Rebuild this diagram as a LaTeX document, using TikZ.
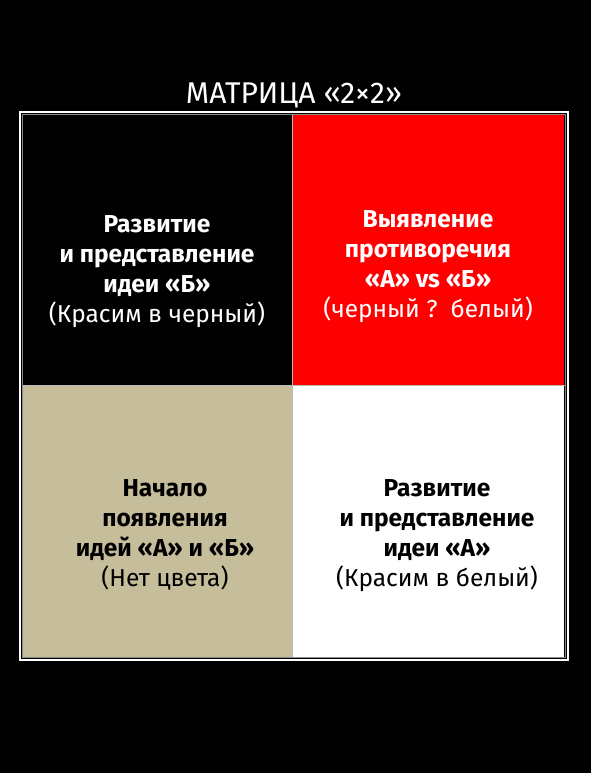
\documentclass[tikz,border=0pt]{standalone}
\usepackage{fontspec}
\setmainfont{Fira Sans}
\definecolor{khaki}{HTML}{C6BD9B}
\definecolor{framegray}{HTML}{8A8A8A}
\begin{document}
\begin{tikzpicture}[x=1pt,y=-1pt,
  quad/.style={draw=none,minimum width=271pt,minimum height=271pt,anchor=north west,inner sep=0pt},
  qtext/.style={align=center,font=\fontsize{24.5}{30}\selectfont,text=#1},
]
\useasboundingbox[fill=black] (0,0) rectangle (591,773);
\node[text=white,font=\fontsize{30}{32}\selectfont] (title) at (294,95) {МАТРИЦА «2×2»};
\draw[white,line width=2.2pt] (20,112) rectangle (568,660);
\draw[framegray,line width=1pt] (22.5,114.5) rectangle (565.5,657.5);
\node[quad,fill=black] (tl) at (23,115) {};
\node[quad,fill=red] (tr) at (293,115) {};
\node[quad,fill=khaki] (bl) at (23,386) {};
\node[quad,fill=white] (br) at (293,386) {};
\draw[framegray!60,line width=0.6pt] (292.5,115) -- (292.5,657);
\draw[framegray!60,line width=0.6pt] (23,385.7) -- (565,385.7);
\node[qtext=white] (ttl) at (157,272) {\textbf{Развитие}\\\textbf{и представление}\\\textbf{идеи «Б»}\\(Красим в черный)};
\node[qtext=white] (ttr) at (428,267) {\textbf{Выявление}\\\textbf{противоречия}\\\textbf{«А» vs «Б»}\\(черный ?\ \ белый)};
\node[qtext=black] (tbl) at (165,534.5) {\textbf{Начало}\\\textbf{появления}\\\textbf{идей «А» и «Б»}\\(Нет цвета)};
\node[qtext=black] (tbr) at (437,536) {\textbf{Развитие}\\\textbf{и представление}\\\textbf{идеи «А»}\\(Красим в белый)};
\end{tikzpicture}
\end{document}
